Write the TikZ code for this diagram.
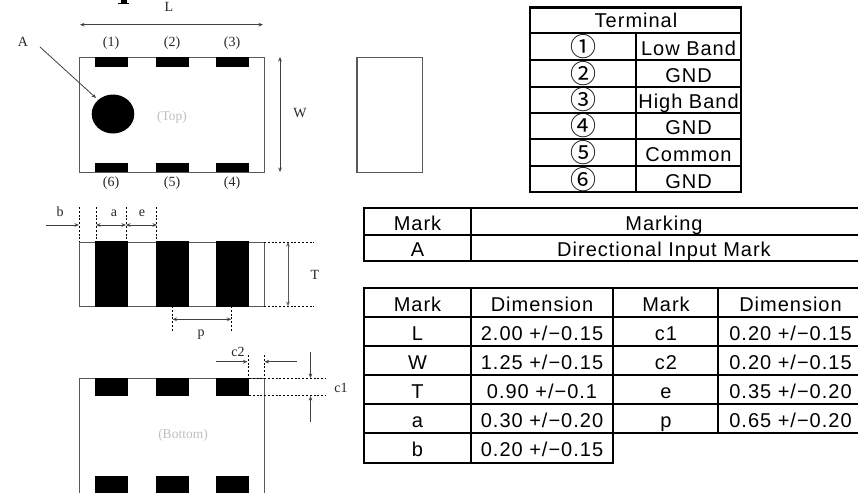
\documentclass[tikz,border=0pt]{standalone}
\usepackage{fontspec}
\setmainfont{Liberation Serif}
\setsansfont{Liberation Sans}[LetterSpace=5]
\newfontfamily\symfont{Noto Sans CJK JP}
\usetikzlibrary{arrows.meta}
\definecolor{outl}{gray}{0.35}
\definecolor{faint}{gray}{0.75}
\definecolor{dimtxt}{gray}{0.15}
\tikzset{
  x=1pt,y=-1pt,
  body/.style={draw=outl,line width=1.1pt,fill=white},
  pad/.style={fill=black,draw=none},
  lbl/.style={font=\rmfamily\fontsize{14}{16}\selectfont,text=dimtxt,inner sep=0pt},
  faintlbl/.style={font=\rmfamily\fontsize{13.5}{16}\selectfont,text=faint,inner sep=0pt},
  dimline/.style={draw=black!75,line width=0.8pt,{Stealth[length=4.5pt,width=3.6pt]}-{Stealth[length=4.5pt,width=3.6pt]}},
  oneway/.style={draw=black!75,line width=0.8pt,-{Stealth[length=4.5pt,width=3.6pt]}},
  guide/.style={draw=black,line width=0.9pt,dash pattern=on 2pt off 1.8pt},
  rule/.style={draw=black,line width=2.8pt},
  cell/.style={font=\sffamily\fontsize{20}{22}\selectfont,text=black,inner sep=0pt,anchor=base,yshift=-8.5pt},
  circnum/.style={font=\symfont\fontsize{26}{28}\selectfont,text=black,inner sep=0pt,anchor=base,yshift=-9.5pt},
}
\begin{document}
\begin{tikzpicture}
\useasboundingbox (0,0) rectangle (858,493);
\fill[white] (0,0) rectangle (858,493);
% title fragment
\fill[black] (120.5,0) rectangle (127,3);
\fill[black] (118,2.7) rectangle (129,4.3);
% top view
\node[body,minimum width=185pt,minimum height=115pt,inner sep=0pt,anchor=north west] (top) at (79,57) {};
\foreach \a/\b in {95/128,156/189,215.5/249}{
  \fill[pad] (\a,57) rectangle (\b,67);
  \fill[pad] (\a,162.5) rectangle (\b,172);
}
\fill[black] (113,114) ellipse [x radius=21.3,y radius=19.5];
\coordinate (mark) at (96,98);
\coordinate (atail) at (40,47);
\node[lbl] (A) at (23,42) {A};
\draw[oneway] (atail) -- (mark);
\node[lbl] (L) at (169,7) {L};
\node[lbl] (W) at (300,113) {W};
\coordinate (l1) at (80,24.7); \coordinate (l2) at (263,24.7);
\draw[dimline] (l1) -- (l2);
\coordinate (w1) at (280,57); \coordinate (w2) at (280,172);
\draw[dimline] (w1) -- (w2);
\foreach \t/\x/\y in {(1)/111/43,(2)/172/43,(3)/232/43,(6)/111/183,(5)/172/183,(4)/232/183}{
  \node[lbl] at (\x,\y) {\t};
}
\node[faintlbl] (toplbl) at (172,117) {(Top)};
% end view
\node[body,minimum width=65.7pt,minimum height=115pt,inner sep=0pt,anchor=north west] (endv) at (356.4,57) {};
% side view
\node[body,minimum width=185pt,minimum height=64.3pt,inner sep=0pt,anchor=north west] (side) at (79,241.7) {};
\foreach \a/\b in {95/128,156/189,215.5/249}{
  \fill[pad] (\a,241.2) rectangle (\b,306.5);
}
\foreach \x in {79,96,126,156.5}{
  \draw[guide] (\x,207) -- (\x,241.7);
}
\coordinate (b1) at (46,225); \coordinate (b2) at (79,225);
\draw[oneway] (b1) -- (b2);
\coordinate (a1) at (96,225); \coordinate (a2) at (126,225); \coordinate (e2) at (157,225);
\draw[dimline] (a1) -- (a2);
\draw[dimline] (a2) -- (e2);
\node[lbl] (bl) at (60,212) {b};
\node[lbl] (al) at (114,213) {a};
\node[lbl] (el) at (142,213) {e};
\draw[guide] (264,242) -- (314,242);
\draw[guide] (264,306) -- (314,306);
\coordinate (t1) at (288,242); \coordinate (t2) at (288,306);
\draw[dimline,draw=outl,line width=1pt] (t1) -- (t2);
\node[lbl] (Tl) at (315,275) {T};
\draw[guide] (172.5,306) -- (172.5,331.7);
\draw[guide] (231.3,306) -- (231.3,331.7);
\coordinate (p1) at (172.5,319.3); \coordinate (p2) at (231.3,319.3);
\draw[dimline] (p1) -- (p2);
\node[lbl] (pl) at (201,335) {p};
% bottom view
\draw[outl,line width=0.9pt] (79,493) -- (79,378) -- (264,378) -- (264,493);
\foreach \a/\b in {95/128,156/189,215.5/249}{
  \fill[pad] (\a,378) rectangle (\b,396);
  \fill[pad] (\a,476) rectangle (\b,493);
}
\node[faintlbl] (botlbl) at (183,435) {(Bottom)};
\node[lbl] (c2l) at (238,352) {c2};
\node[lbl] (c1l) at (341,388) {c1};
\draw[guide] (248,355) -- (248,378);
\draw[guide] (264,355) -- (264,378);
\coordinate (c2a) at (216,361.7); \coordinate (c2b) at (247.5,361.7);
\coordinate (c2c) at (296.7,361.7); \coordinate (c2d) at (264.5,361.7);
\draw[oneway] (c2a) -- (c2b);
\draw[oneway] (c2c) -- (c2d);
\draw[guide] (249,378) -- (326,378);
\draw[guide] (249,395.5) -- (326,395.5);
\coordinate (c1a) at (310.5,351.7); \coordinate (c1b) at (310.5,378);
\coordinate (c1c) at (310.5,421.7); \coordinate (c1d) at (310.5,396);
\draw[oneway] (c1a) -- (c1b);
\draw[oneway] (c1c) -- (c1d);
% terminal table
\draw[rule] (530,7.5) rectangle (741,192);
\foreach \y in {33,60,87,113,139,166}{ \draw[rule] (530,\y) -- (741,\y); }
\draw[rule] (636,33) -- (636,192);
\node[cell,yshift=1.5pt] at (636,20) {Terminal};
\foreach \y/\s/\t in {47/①/Low Band,73.5/②/GND,100/③/High Band,126/④/GND,152.5/⑤/Common,179.5/⑥/GND}{
  \node[circnum] at (583,\y) {\s};
  \node[cell] at (688.5,\y) {\t};
}
% marking table
\draw[rule] (858,208) -- (364,208) -- (364,261) -- (858,261);
\draw[rule] (364,235) -- (858,235);
\draw[rule] (471,208) -- (471,261);
\node[cell] at (417.5,221.5) {Mark};
\node[cell] at (664,221.5) {Marking};
\node[cell] at (417.5,248) {A};
\node[cell] at (664,248) {Directional Input Mark};
% dimension table
\draw[rule] (858,288) -- (364,288) -- (364,463) -- (613,463) -- (613,288);
\foreach \y in {317,346,375,404}{ \draw[rule] (364,\y) -- (858,\y); }
\draw[rule] (364,433) -- (858,433);
\draw[rule] (471,288) -- (471,463);
\draw[rule] (718,288) -- (718,433);
\foreach \y/\m/\v in {303/Mark/Dimension,332/L/{2.00 +/−0.15},361/W/{1.25 +/−0.15},390/T/{0.90 +/−0.1},419/a/{0.30 +/−0.20},448/b/{0.20 +/−0.15}}{
  \node[cell] at (417.5,\y) {\m};
  \node[cell] at (542,\y) {\v};
}
\foreach \y/\m/\v in {303/Mark/Dimension,332/c1/{0.20 +/−0.15},361/c2/{0.20 +/−0.15},390/e/{0.35 +/−0.20},419/p/{0.65 +/−0.20}}{
  \node[cell] at (666,\y) {\m};
  \node[cell] at (790.5,\y) {\v};
}
\end{tikzpicture}
\end{document}
